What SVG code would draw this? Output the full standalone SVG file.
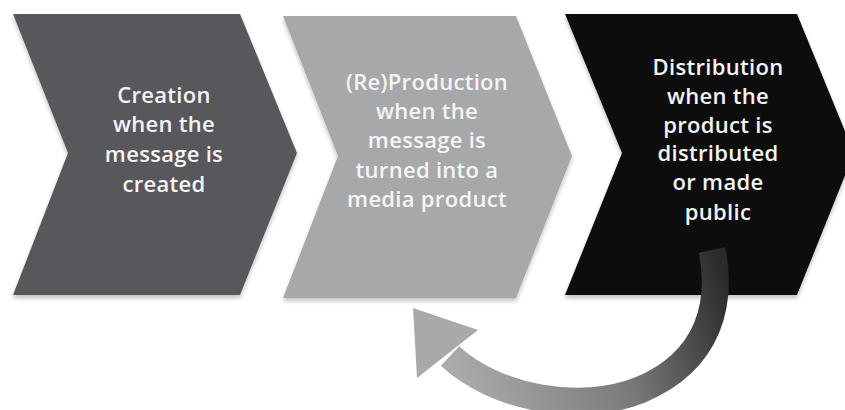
<svg xmlns="http://www.w3.org/2000/svg" width="845" height="410" viewBox="0 0 845 410">
  <style>
    .lbl { font-family: "Open Sans", "Liberation Sans", sans-serif; font-weight: 600; font-size: 22px; letter-spacing: 0.3px; fill: #f4f4f4; text-anchor: middle; }
  </style>
  <defs>
    <filter id="sh" x="-10%" y="-10%" width="120%" height="125%">
      <feGaussianBlur in="SourceAlpha" stdDeviation="2"/>
      <feOffset dx="0" dy="3" result="b"/>
      <feComponentTransfer><feFuncA type="linear" slope="0.25"/></feComponentTransfer>
      <feMerge><feMergeNode/><feMergeNode in="SourceGraphic"/></feMerge>
    </filter>
    <linearGradient id="arrowGrad" gradientUnits="userSpaceOnUse" x1="720" y1="260" x2="450" y2="360">
      <stop offset="0" stop-color="#2a2a2a"/>
      <stop offset="0.45" stop-color="#7a7a7a"/>
      <stop offset="1" stop-color="#ababab"/>
    </linearGradient>
  </defs>
  <rect width="845" height="410" fill="#ffffff"/>

  <g id="creation">
    <polygon points="13,14 240,14 297,153 240,295 13,295 68,153" fill="#59595b" filter="url(#sh)"/>
    <text class="lbl" x="164" y="103">Creation</text>
    <text class="lbl" x="164" y="132">when the</text>
    <text class="lbl" x="164" y="162">message is</text>
    <text class="lbl" x="164" y="192">created</text>
  </g>

  <g id="reproduction">
    <polygon points="283,16 516,16 572,156 516,298 283,298 338,156" fill="#a7a8aa" filter="url(#sh)"/>
    <text class="lbl" x="427" y="90">(Re)Production</text>
    <text class="lbl" x="427" y="119">when the</text>
    <text class="lbl" x="427" y="148">message is</text>
    <text class="lbl" x="427" y="178">turned into a</text>
    <text class="lbl" x="427" y="207">media product</text>
  </g>

  <g id="distribution">
    <polygon points="565,14 797,14 854,153 797,295 565,295 622,153" fill="#0e0e0e" filter="url(#sh)"/>
    <text class="lbl" x="718" y="75">Distribution</text>
    <text class="lbl" x="718" y="104">when the</text>
    <text class="lbl" x="718" y="133">product is</text>
    <text class="lbl" x="718" y="161">distributed</text>
    <text class="lbl" x="718" y="190">or made</text>
    <text class="lbl" x="718" y="220">public</text>
  </g>

  <g id="connectors">
    <path d="M 712 250 C 722 300, 712 360, 640 390 C 580 414, 495 398, 450 356" fill="none" stroke="url(#arrowGrad)" stroke-width="27"/>
    <polygon points="413,308 417,378 478,330" fill="#a9a9a9"/>
  </g>
</svg>
